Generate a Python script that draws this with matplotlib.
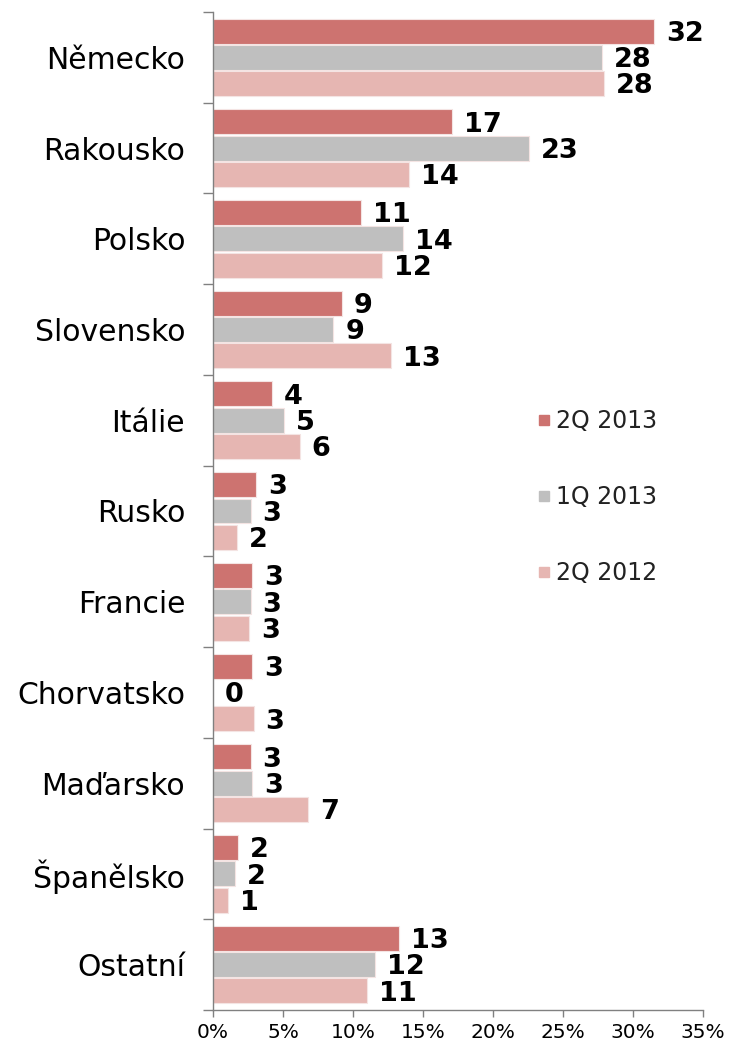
import numpy as np
import matplotlib.pyplot as plt
from matplotlib.lines import Line2D

# podíl zemí na vývozu (%), tři čtvrtletí
zeme = ['Německo', 'Rakousko', 'Polsko', 'Slovensko', 'Itálie', 'Rusko',
        'Francie', 'Chorvatsko', 'Maďarsko', 'Španělsko', 'Ostatní']
q2_2013 = [31.5, 17.1, 10.6, 9.2, 4.2, 3.1, 2.8, 2.8, 2.7, 1.8, 13.3]
q1_2013 = [27.8, 22.6, 13.6, 8.6, 5.1, 2.7, 2.7, 0.0, 2.8, 1.6, 11.6]
q2_2012 = [27.9, 14.0, 12.1, 12.7, 6.2, 1.7, 2.6, 2.9, 6.8, 1.1, 11.0]
rady = ['2Q 2013', '1Q 2013', '2Q 2012']
barvy = ['#CD7370', '#BFBFBF', '#E6B6B2']

fig = plt.figure(figsize=(7.29, 10.47), dpi=100)
ax = fig.add_axes([213/729, 37/1047, 490/729, (1010-12)/1047])

n = len(zeme)
y = np.arange(n)
h = 0.275
krok = 0.29
for i, (data, barva, nazev) in enumerate(zip([q2_2013, q1_2013, q2_2012], barvy, rady)):
    pos = y + (i - 1) * krok
    ax.barh(pos, data, height=h, color=barva, edgecolor='#f4e4e3',
            linewidth=0.8, label=nazev)
    for yy, v in zip(pos, data):
        ax.annotate(f'{v:.0f}', xy=(v, yy), xytext=(8.5, -2), textcoords='offset points',
                    ha='left', va='center', fontsize=19.5, fontweight='heavy', color='black')

ax.set_ylim(n - 0.5, -0.5)
ax.set_xlim(0, 35)
ax.set_xticks(np.arange(0, 36, 5))
ax.set_xticklabels([f'{t}%' for t in range(0, 36, 5)], fontsize=14.5)
ax.set_yticks(y)
ax.set_yticklabels(zeme, fontsize=21.5)
ax.set_yticks(np.arange(-0.5, n), minor=True)
ax.tick_params(axis='y', which='major', length=0, pad=20)
ax.tick_params(axis='y', which='minor', length=7, width=1, color='#808080', direction='out')
ax.tick_params(axis='x', length=5, width=1, color='#808080', direction='out', pad=4)
for s in ['top', 'right']:
    ax.spines[s].set_visible(False)
for s in ['left', 'bottom']:
    ax.spines[s].set_color('#808080')
    ax.spines[s].set_linewidth(1)

handles = [Line2D([], [], marker='s', linestyle='none', markersize=7,
                  markerfacecolor=c, markeredgecolor=c) for c in barvy]
leg = fig.legend(handles, rady, loc='center left', bbox_to_anchor=(516/729, 1 - 497/1047),
                 frameon=False, fontsize=17, labelspacing=2.2, handlelength=0.6,
                 handletextpad=0.2)
for t in leg.get_texts():
    t.set_color('#222222')

fig.savefig('out.png', dpi=100)
